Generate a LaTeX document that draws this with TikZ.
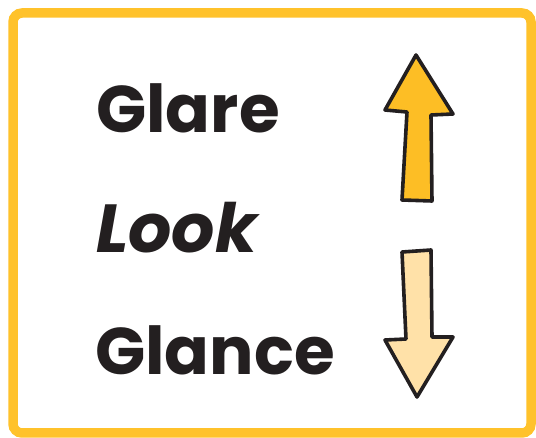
\documentclass[tikz,border=0pt]{standalone}
\usepackage{fontspec}
\setmainfont{Poppins}
\usetikzlibrary{positioning}
\definecolor{glFrame}{HTML}{FFC22B}
\definecolor{glUp}{HTML}{FDBE25}
\definecolor{glDown}{HTML}{FFE1A8}
\definecolor{glInk}{HTML}{231F20}
\tikzset{
  glword/.style={anchor=base west, inner sep=0pt, text=glInk,
    font=\fontsize{66}{78}\selectfont\bfseries},
  glarrow/.style={draw=glInk, line width=3.6pt, line join=round},
  glframe/.style={draw=glFrame, line width=9.5pt, rounded corners=9pt}
}
\begin{document}
\begin{tikzpicture}[x=1pt, y=-1pt]
  \useasboundingbox (0,0) rectangle (536,438);
  \draw[glframe] (13,13) rectangle (531,433);
  % words
  \node[glword] (glare) at (96,133) {Glare};
  \node[glword, font=\fontsize{68}{78}\selectfont\bfseries\itshape] (look) at (96,253) {Look};
  \node[glword] (glance) at (95,375) {Glance};
  % up arrow
  \filldraw[glarrow, fill=glUp] (416,55) -- (453,114) -- (431,115) -- (432,201)
    -- (402,200) -- (407,112) -- (385,110) -- cycle;
  % down arrow
  \filldraw[glarrow, fill=glDown] (402,252) -- (431,250) -- (432,337) -- (453,337)
    -- (417,397) -- (385,340) -- (406,339) -- cycle;
\end{tikzpicture}
\end{document}
